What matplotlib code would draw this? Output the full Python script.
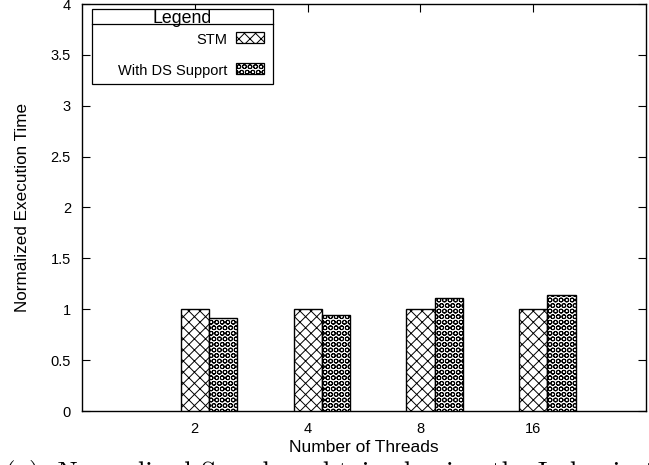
import matplotlib
matplotlib.use("Agg")
import matplotlib.pyplot as plt
from matplotlib.patches import Rectangle
from matplotlib.lines import Line2D
from matplotlib.ticker import FuncFormatter
import numpy as np

# Data
threads = ["2", "4", "8", "16"]
stm = [1.0, 1.0, 1.0, 1.0]
ds_support = [0.91, 0.94, 1.11, 1.14]
series_names = ["STM", "With DS Support"]
y_ticks = [0, 0.5, 1, 1.5, 2, 2.5, 3, 3.5, 4]
caption = "(a)  Normalized Speedup obtained using the Index in the"

plt.rcParams['font.family'] = ['Liberation Sans', 'DejaVu Sans']
plt.rcParams['hatch.linewidth'] = 0.7

W, H = 649, 465
fig = plt.figure(figsize=(W / 100, H / 100), dpi=100)


def fx(px):
    return px / W


def fy(py):
    return 1 - py / H


ax = fig.add_axes([fx(82), fy(411), fx(646) - fx(82), fy(4) - fy(411)])

x = np.arange(len(threads))
bw = 0.25
hatches = ["xxx", "OOO"]
ax.bar(x, stm, bw, facecolor='white', edgecolor='black',
       hatch=hatches[0], linewidth=1.0, zorder=3)
ax.bar(x + bw, ds_support, bw, facecolor='white', edgecolor='black',
       hatch=hatches[1], linewidth=1.0, zorder=3)

ax.set_xlim(-1, 4)
ax.set_ylim(0, 4)
ax.set_xticks(x)
ax.set_xticklabels(threads)
ax.set_yticks(y_ticks)
ax.yaxis.set_major_formatter(FuncFormatter(lambda v, p: f"{v:g}"))
ax.tick_params(direction='in', top=True, right=True, length=6, width=0.8,
               labelsize=10.5, pad=8)
for s in ax.spines.values():
    s.set_linewidth(1.0)

ax.set_xlabel("Number of Threads", fontsize=12.5, labelpad=3)
ax.set_ylabel("Normalized Execution Time", fontsize=12.3, labelpad=15)

# Legend box with title row
tf = fig.transFigure
box = Rectangle((fx(92), fy(84)), fx(273) - fx(92), fy(9) - fy(84),
                facecolor='white', edgecolor='black', linewidth=0.9,
                transform=tf, zorder=10)
fig.add_artist(box)
fig.add_artist(Line2D([fx(92), fx(273)], [fy(24), fy(24)], color='black',
                      linewidth=0.9, transform=tf, zorder=11))
fig.text(fx(182.5), fy(16.5), "Legend", ha='center', va='center_baseline',
         fontsize=12.8, zorder=12)

rows_y = [38, 69]
for name, hatch, ry in zip(series_names, hatches, rows_y):
    fig.text(fx(227), fy(ry), name, ha='right', va='center_baseline',
             fontsize=10.5, zorder=12)
    fig.add_artist(Rectangle((fx(236), fy(ry + 5.5)), fx(264) - fx(236),
                             fy(ry - 5.5) - fy(ry + 5.5), facecolor='white',
                             edgecolor='black', hatch=hatch, linewidth=0.9,
                             transform=tf, zorder=12))

fig.text(fx(5), fy(480), caption, fontfamily='cmr10', fontsize=19.5,
         va='baseline', ha='left')

fig.savefig("out.png", dpi=100)
